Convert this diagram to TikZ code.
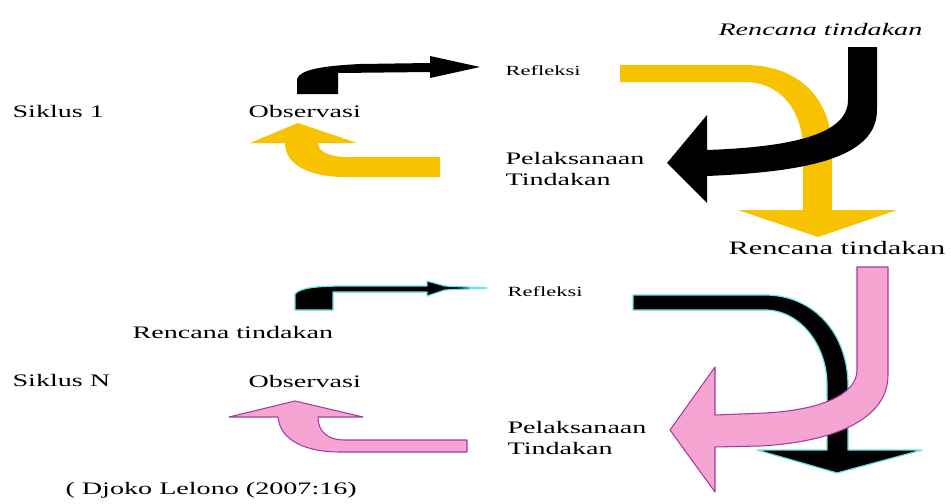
\documentclass[tikz,border=0pt]{standalone}
\usepackage{fontspec}
\setmainfont{Liberation Serif}
\definecolor{arrowgold}{RGB}{248,194,0}
\definecolor{arrowpink}{RGB}{246,164,210}
\definecolor{pinkedge}{RGB}{160,60,160}
\definecolor{glowcyan}{RGB}{110,225,225}
\begin{document}
\begin{tikzpicture}[x=0.02cm,y=-0.02cm,
  lbl/.style={inner sep=0pt, anchor=west, xscale=1.6, font=\fontsize{10}{12.5}\selectfont},
  lblit/.style={lbl, font=\fontsize{10}{12.5}\selectfont\itshape},
  lblbig/.style={lbl, font=\fontsize{10.8}{13}\selectfont},
  lblsmall/.style={lbl, font=\fontsize{8}{10}\selectfont},
  gold/.style={fill=arrowgold},
  pinkarrow/.style={fill=arrowpink, draw=pinkedge, line width=0.6pt, line join=round},
  darkglow/.style={fill=black, draw=glowcyan, line width=0.7pt, line join=round}]

\fill[white] (0,0) rectangle (951,504);
\useasboundingbox (0,0) rectangle (951,504);

% ---------------- Siklus 1 ----------------
% observation -> reflection (small bent arrow)
\fill (297,94) -- (297,79) .. controls (300,70) and (320,66) .. (360,64)
  -- (430,63) -- (430,56) -- (480,67) -- (430,78) -- (430,72)
  -- (338,73) -- (338,94) -- cycle;

% action -> observation (curved up arrow)
\fill[gold] (440,157) -- (348,157) .. controls (330,157) and (318,152) .. (318,143)
  -- (357,143) -- (298,123) -- (250,143) -- (285,143)
  .. controls (285,165) and (310,177) .. (345,177) -- (440,177) -- cycle;

% reflection -> next plan (large yellow turn)
\fill[gold] (620,65) -- (745,65) .. controls (800,65) and (832,100) .. (832,150)
  -- (832,210) -- (897,210) -- (818,237) -- (738,210) -- (803,210) -- (803,150)
  .. controls (803,110) and (780,82) .. (745,82) -- (620,82) -- cycle;

% plan -> action (large black turn)
\fill (848,47) -- (877,47) -- (877,110) .. controls (877,160) and (800,172) .. (707,176)
  -- (707,203) -- (667,163) -- (707,115) -- (707,150)
  .. controls (790,147) and (848,135) .. (848,100) -- cycle;

% ---------------- Siklus N ----------------
% observation -> reflection (small bent arrow)
\filldraw[darkglow] (295,310) -- (295,294) .. controls (300,288) and (315,286) .. (345,286)
  -- (427,286) -- (427,281) -- (445,286) -- (487,288) -- (445,290) -- (427,296)
  -- (427,292) -- (333,292) -- (333,310) -- cycle;

% action -> observation (curved up arrow)
\filldraw[pinkarrow] (467,440) -- (345,440) .. controls (328,440) and (318,432) .. (318,417)
  -- (363,417) -- (295,401) -- (229,417) -- (278,417)
  .. controls (280,440) and (305,452) .. (340,452) -- (467,452) -- cycle;

% reflection -> onward (large black turn)
\filldraw[darkglow] (633,295) -- (765,295) .. controls (815,295) and (848,335) .. (848,385)
  -- (848,450) -- (922,450) -- (837,473) -- (757,450) -- (827,450) -- (827,385)
  .. controls (827,345) and (800,310) .. (765,310) -- (633,310) -- cycle;

% plan -> action (large pink turn)
\filldraw[pinkarrow] (857,267) -- (888,267) -- (888,375)
  .. controls (888,425) and (820,443) .. (760,446) -- (715,447) -- (715,492)
  -- (670,430) -- (715,367) -- (715,415) -- (765,413)
  .. controls (820,410) and (857,395) .. (857,370) -- cycle;

% ---------------- Labels ----------------
\node[lblit]    (plan1)  at (718,29)  {Rencana tindakan};
\node[lbl]      (cyc1)   at (12,111)  {Siklus 1};
\node[lbl]      (obs1)   at (248,111) {Observasi};
\node[lblsmall] (ref1)   at (505,71)  {Refleksi};
\node[lbl, align=left] (act1) at (505,169) {Pelaksanaan\\Tindakan};
\node[lblbig]   (plan2)  at (728,248) {Rencana tindakan};

\node[lblsmall] (ref2)   at (507,292) {Refleksi};
\node[lbl]      (plan3)  at (132,332) {Rencana tindakan};
\node[lbl]      (cycN)   at (12,380)  {Siklus N};
\node[lbl]      (obs2)   at (248,381) {Observasi};
\node[lbl, align=left] (act2) at (507,438) {Pelaksanaan\\Tindakan};
\node[lbl]      (source) at (65,490)  {( Djoko Lelono (2007:16)};
\end{tikzpicture}
\end{document}
